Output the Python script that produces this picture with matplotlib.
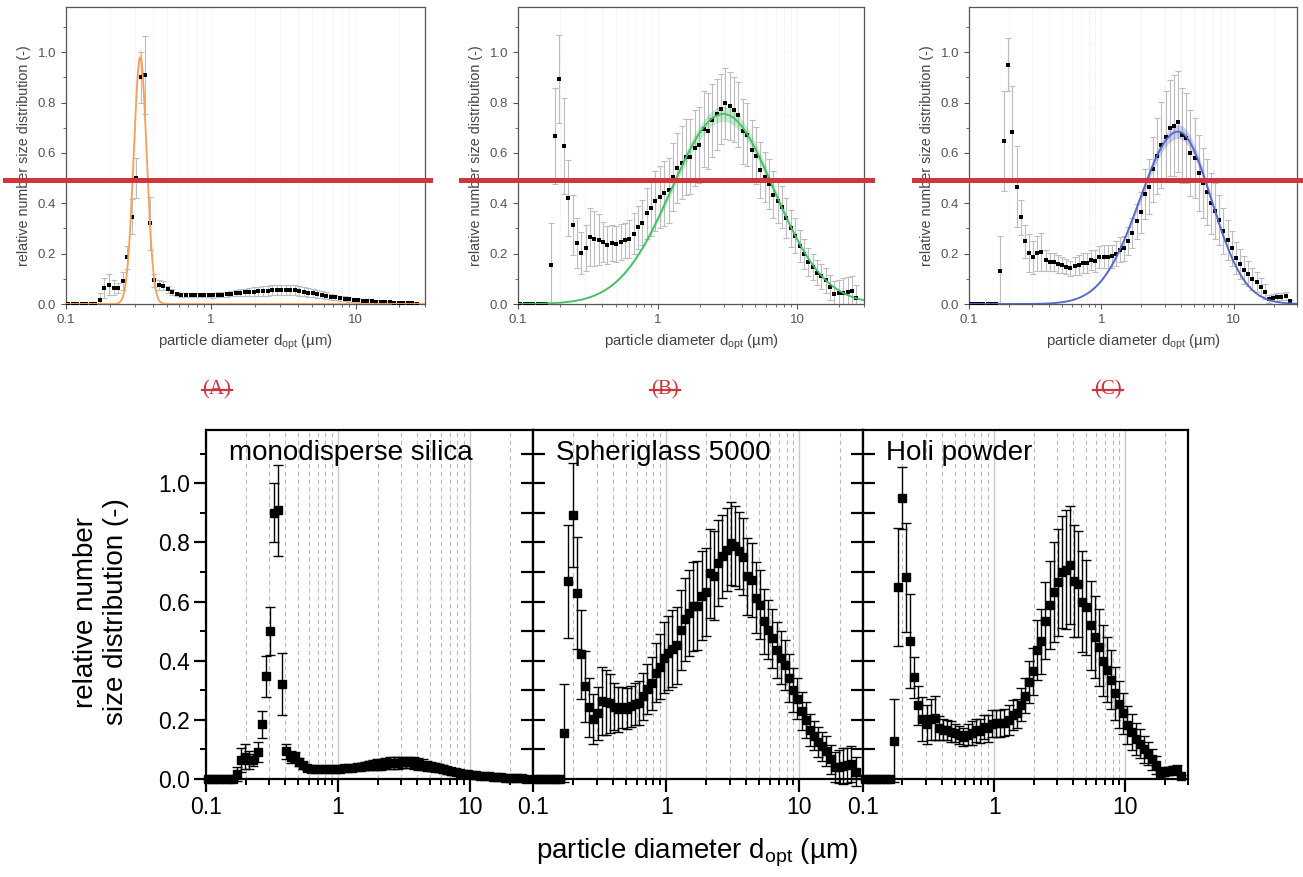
import numpy as np
import matplotlib
matplotlib.use('Agg')
import matplotlib.pyplot as plt
import matplotlib.ticker as ticker
from matplotlib.lines import Line2D

plt.rcParams.update({
    'font.family': 'Liberation Sans',
    'mathtext.fontset': 'custom',
    'mathtext.rm': 'Liberation Sans',
    'mathtext.it': 'Liberation Sans:italic',
})

# channel mid diameters of the optical counter (um), 32 channels per decade
diameter = [0.1037, 0.1114, 0.1197, 0.1286, 0.1382, 0.1486, 0.1596, 0.1715,
            0.1843, 0.1981, 0.2129, 0.2287, 0.2458, 0.2641, 0.2838, 0.3050,
            0.3278, 0.3522, 0.3785, 0.4067, 0.4371, 0.4697, 0.5047, 0.5424,
            0.5829, 0.6264, 0.6731, 0.7233, 0.7773, 0.8353, 0.8976, 0.9646,
            1.037, 1.114, 1.197, 1.286, 1.382, 1.486, 1.596, 1.715,
            1.843, 1.981, 2.129, 2.287, 2.458, 2.641, 2.838, 3.050,
            3.278, 3.522, 3.785, 4.067, 4.371, 4.697, 5.047, 5.424,
            5.829, 6.264, 6.731, 7.233, 7.773, 8.353, 8.976, 9.646,
            10.37, 11.14, 11.97, 12.86, 13.82, 14.86, 15.96, 17.15,
            18.43, 19.81, 21.29, 22.87, 24.58, 26.41]

silica = [0, 0, 0, 0, 0, 0, 0, 0.017,
          0.064, 0.076, 0.064, 0.064, 0.091, 0.185, 0.347, 0.50,
          0.90, 0.908, 0.321, 0.094, 0.075, 0.073, 0.058, 0.046,
          0.038, 0.034, 0.034, 0.034, 0.034, 0.034, 0.034, 0.034,
          0.035, 0.036, 0.037, 0.038, 0.040, 0.042, 0.044, 0.046,
          0.048, 0.049, 0.050, 0.052, 0.053, 0.054, 0.055, 0.056,
          0.056, 0.056, 0.054, 0.052, 0.049, 0.045, 0.042, 0.039,
          0.036, 0.033, 0.029, 0.026, 0.023, 0.021, 0.018, 0.016,
          0.014, 0.012, 0.011, 0.010, 0.009, 0.008, 0.007, 0.006,
          0.005, 0.005, 0.005, 0.004, 0.004, 0.001]
silica_err = [0, 0, 0, 0, 0, 0, 0, 0.025,
              0.04, 0.042, 0.03, 0.02, 0.035, 0.045, 0.07, 0.08,
              0.10, 0.155, 0.105, 0.025, 0.02, 0.017, 0.014, 0.012,
              0.008, 0.008, 0.008, 0.008, 0.008, 0.008, 0.008, 0.008,
              0.01, 0.01, 0.01, 0.01, 0.01, 0.012, 0.014, 0.015,
              0.016, 0.017, 0.018, 0.019, 0.02, 0.02, 0.02, 0.02,
              0.02, 0.02, 0.02, 0.02, 0.018, 0.017, 0.016, 0.015,
              0.014, 0.013, 0.012, 0.011, 0.01, 0.01, 0.009, 0.009,
              0.008, 0.008, 0.007, 0.007, 0.006, 0.006, 0.005, 0.005,
              0.005, 0.005, 0.005, 0.004, 0.004, 0.003]

spheriglass = [0, 0, 0, 0, 0, 0, 0, 0.155,
               0.668, 0.893, 0.628, 0.421, 0.314, 0.243, 0.203, 0.222,
               0.265, 0.26, 0.256, 0.245, 0.235, 0.242, 0.238, 0.246,
               0.253, 0.258, 0.28, 0.305, 0.323, 0.36, 0.38, 0.41,
               0.425, 0.44, 0.452, 0.505, 0.54, 0.562, 0.584, 0.586,
               0.62, 0.632, 0.695, 0.688, 0.73, 0.753, 0.775, 0.797,
               0.788, 0.772, 0.752, 0.686, 0.672, 0.613, 0.59, 0.533,
               0.505, 0.476, 0.435, 0.41, 0.385, 0.342, 0.30, 0.272,
               0.23, 0.20, 0.166, 0.147, 0.125, 0.11, 0.094, 0.066,
               0.04, 0.042, 0.044, 0.046, 0.05, 0.025]
spheriglass_err = [0, 0, 0, 0, 0, 0, 0, 0.165,
                   0.19, 0.175, 0.19, 0.15, 0.12, 0.10, 0.085, 0.09,
                   0.115, 0.11, 0.10, 0.08, 0.075, 0.07, 0.07, 0.07,
                   0.07, 0.075, 0.08, 0.085, 0.09, 0.10, 0.11, 0.12,
                   0.125, 0.13, 0.13, 0.135, 0.14, 0.145, 0.15, 0.15,
                   0.15, 0.15, 0.15, 0.15, 0.145, 0.14, 0.14, 0.14,
                   0.135, 0.13, 0.13, 0.13, 0.125, 0.12, 0.115, 0.11,
                   0.10, 0.10, 0.095, 0.09, 0.085, 0.08, 0.075, 0.07,
                   0.065, 0.06, 0.055, 0.05, 0.05, 0.05, 0.05, 0.05,
                   0.05, 0.055, 0.06, 0.06, 0.06, 0.05]

holi = [0, 0, 0, 0, 0, 0, 0, 0.13,
        0.648, 0.95, 0.682, 0.466, 0.344, 0.249, 0.202, 0.185,
        0.202, 0.206, 0.173, 0.167, 0.166, 0.16, 0.155, 0.148,
        0.142, 0.15, 0.156, 0.164, 0.163, 0.176, 0.171, 0.187,
        0.188, 0.188, 0.19, 0.20, 0.216, 0.222, 0.251, 0.282,
        0.328, 0.364, 0.436, 0.466, 0.535, 0.588, 0.632, 0.665,
        0.70, 0.708, 0.724, 0.67, 0.66, 0.60, 0.58, 0.52,
        0.48, 0.445, 0.40, 0.37, 0.335, 0.29, 0.253, 0.222,
        0.183, 0.159, 0.136, 0.12, 0.10, 0.086, 0.067, 0.048,
        0.02, 0.025, 0.027, 0.029, 0.031, 0.01]
holi_err = [0, 0, 0, 0, 0, 0, 0, 0.14,
            0.2, 0.105, 0.185, 0.16, 0.07, 0.065, 0.075, 0.065,
            0.07, 0.075, 0.04, 0.035, 0.035, 0.035, 0.03, 0.03,
            0.03, 0.035, 0.04, 0.04, 0.04, 0.04, 0.045, 0.045,
            0.045, 0.045, 0.045, 0.05, 0.05, 0.05, 0.055, 0.06,
            0.07, 0.08, 0.10, 0.11, 0.13, 0.15, 0.17, 0.18,
            0.19, 0.20, 0.20, 0.19, 0.18, 0.17, 0.16, 0.15,
            0.14, 0.13, 0.12, 0.11, 0.10, 0.09, 0.08, 0.07,
            0.065, 0.06, 0.055, 0.05, 0.045, 0.04, 0.035, 0.03,
            0.015, 0.015, 0.015, 0.015, 0.015, 0.005]

# fit parameters: amplitude, modal diameter (um), log10 width left / right
fit_silica = (0.98, 0.325, 0.045, 0.045)
fit_spheriglass = (0.755, 2.95, 0.37, 0.36)
fit_holi = (0.685, 3.8, 0.29, 0.25)

titles = ['monodisperse silica', 'Spheriglass 5000', 'Holi powder']
panel_tags = ['(A)', '(B)', '(C)']
fit_colors = ['#f5a05a', '#45bf63', '#5567c9']

W, H = 1303, 877
XLIM = (0.1, 30)
YLIM = (0, 1.18)
RED = '#d0353c'


def rect(l, t, r, b):
    return [l / W, 1 - b / H, (r - l) / W, (b - t) / H]


def fit_curve(d, amp, mode, s_left, s_right):
    z = np.log10(d / mode)
    s = np.where(z < 0, s_left, s_right)
    return amp * np.exp(-0.5 * (z / s) ** 2)


def log_axis(ax):
    ax.set_xscale('log')
    ax.set_xlim(*XLIM)
    ax.set_ylim(*YLIM)
    ax.xaxis.set_major_locator(ticker.FixedLocator([0.1, 1, 10]))
    ax.xaxis.set_major_formatter(ticker.FuncFormatter(lambda v, _: f'{v:g}'))
    ax.xaxis.set_minor_locator(ticker.LogLocator(base=10, subs=range(2, 10), numticks=20))
    ax.xaxis.set_minor_formatter(ticker.NullFormatter())
    ax.yaxis.set_major_locator(ticker.MultipleLocator(0.2))
    ax.yaxis.set_minor_locator(ticker.MultipleLocator(0.1))
    ax.yaxis.set_major_formatter(ticker.FormatStrFormatter('%.1f'))


def top_panel(ax, vals, errs, fit, color):
    log_axis(ax)
    ax.set_axisbelow(True)
    ax.grid(True, which='both', axis='x', color='#e4e4e4', lw=0.6, ls=':')
    ax.errorbar(diameter, vals, yerr=errs, fmt='none', ecolor='#bdbdbd',
                elinewidth=0.8, capsize=2, capthick=0.8, zorder=2)
    xs = np.logspace(-1, np.log10(30), 500)
    yf = fit_curve(xs, *fit)
    ax.fill_between(xs, yf * 0.96, yf * 1.04, color=color, alpha=0.3, lw=0, zorder=3)
    ax.plot(diameter, vals, 's', color='k', ms=2.8, mew=0, zorder=4)
    ax.plot(xs, yf, color=color, lw=1.3, zorder=5)
    for sp in ax.spines.values():
        sp.set_color('#555555')
        sp.set_linewidth(0.9)
    ax.tick_params(which='major', direction='out', length=3.5, width=0.8,
                   color='#555555', labelcolor='#555555', labelsize=9.5)
    ax.tick_params(which='minor', direction='out', length=2, width=0.6, color='#555555')
    ax.set_xlabel('particle diameter d$_{\\rm opt}$ (µm)', fontsize=10.8, color='#444444', labelpad=5)
    ax.set_ylabel('relative number size distribution (-)', fontsize=10.3, color='#444444', labelpad=5)


def bottom_panel(ax, vals, errs, title, first):
    log_axis(ax)
    ax.set_axisbelow(True)
    ax.grid(True, which='minor', axis='x', color='#bbbbbb', lw=0.8, ls=(0, (4, 3)))
    ax.grid(True, which='major', axis='x', color='#c8c8c8', lw=1.0, ls='-')
    ax.errorbar(diameter, vals, yerr=errs, fmt='s', color='k', ms=6.2,
                ecolor='k', elinewidth=1.0, capsize=3.3, capthick=1.0,
                zorder=4, clip_on=False)
    for sp in ax.spines.values():
        sp.set_color('k')
        sp.set_linewidth(1.6)
    ax.tick_params(axis='x', which='major', direction='out', length=9, width=1.6,
                   labelsize=16.5, pad=3)
    ax.tick_params(axis='x', which='minor', direction='out', length=4.5, width=1.4)
    if first:
        ax.tick_params(axis='y', which='major', direction='out', length=8.5, width=1.6,
                       labelsize=16.5, pad=3)
        ax.tick_params(axis='y', which='minor', direction='out', length=4.5, width=1.4)
    else:
        ax.tick_params(axis='y', which='both', direction='inout', length=17, width=1.6,
                       labelleft=False)
    ax.text(0.07, 0.971, title, transform=ax.transAxes, ha='left', va='top',
            fontsize=20, zorder=6)


fig = plt.figure(figsize=(W / 100, H / 100), dpi=100)

top_rects = [rect(66, 7, 425, 304), rect(518, 7, 864, 304), rect(969, 7, 1297, 304)]
bot_rects = [rect(206, 430, 533, 779), rect(533, 430, 863, 779), rect(863, 430, 1188, 779)]
series = [(silica, silica_err, fit_silica), (spheriglass, spheriglass_err, fit_spheriglass),
          (holi, holi_err, fit_holi)]

for i, (vals, errs, fit) in enumerate(series):
    ax = fig.add_axes(top_rects[i])
    top_panel(ax, vals, errs, fit, fit_colors[i])

for i, (vals, errs, fit) in enumerate(series):
    ax = fig.add_axes(bot_rects[i])
    bottom_panel(ax, vals, errs, titles[i], i == 0)

fig.text(101 / W, 1 - 612 / H, 'relative number\nsize distribution (-)', rotation=90,
         ha='center', va='center', multialignment='center', fontsize=20, linespacing=1.2)
fig.text(697 / W, 1 - 853 / H, 'particle diameter d$_{\\rm opt}$ (µm)', ha='center',
         va='center', fontsize=20)

# red marker lines across the top row
for x0, x1 in [(5, 430), (461, 872), (914, 1303)]:
    fig.add_artist(Line2D([x0 / W, x1 / W], [1 - 180 / H, 1 - 180 / H],
                          transform=fig.transFigure, color=RED, lw=3.6, zorder=20))

# struck-through panel tags
tag_x = [217, 665, 1108]
tags = []
for x, tag in zip(tag_x, panel_tags):
    tags.append(fig.text(x / W, 1 - 390 / H, tag, ha='center', va='center', color=RED,
                         fontsize=15, family='Liberation Serif'))
fig.canvas.draw()
renderer = fig.canvas.get_renderer()
for t in tags:
    bb = t.get_window_extent(renderer)
    ymid = (bb.y0 + bb.y1) / 2 / H
    fig.add_artist(Line2D([(bb.x0 - 1) / W, (bb.x1 + 1) / W], [ymid, ymid],
                          transform=fig.transFigure, color=RED, lw=1.6))

fig.savefig('out.png', dpi=100)
plt.close(fig)
